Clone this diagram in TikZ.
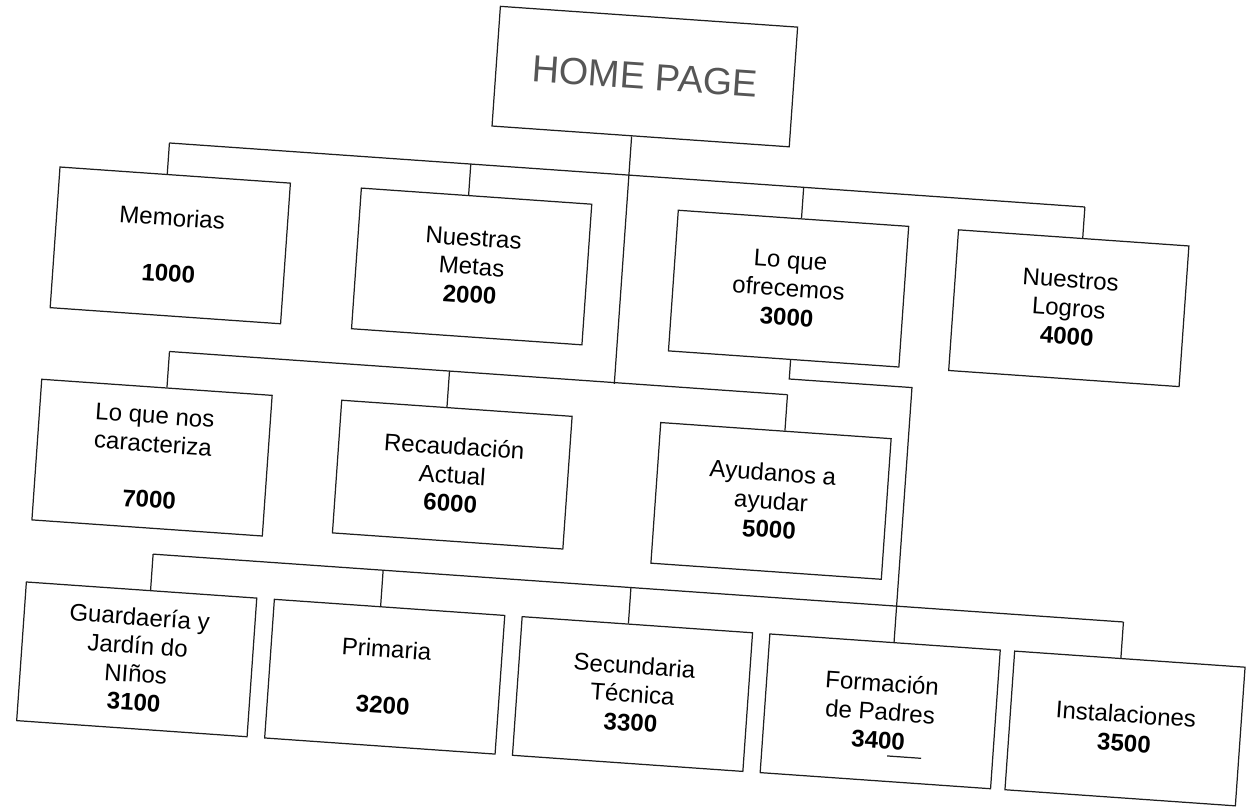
\documentclass[tikz,border=0pt]{standalone}
\usepackage{fontspec}
\setmainfont{Liberation Sans}
\usetikzlibrary{calc}
\definecolor{inkx}{HTML}{1E1E1E}
\tikzset{
  box/.style={draw=inkx,line width=0.7pt,align=center,minimum width=4.62cm,minimum height=2.82cm,inner sep=2pt,font=\fontsize{13.7}{16.2}\selectfont,transform shape},
  rowc/.style={box,minimum height=2.78cm},
  ln/.style={draw=inkx,line width=0.7pt}
}

\begin{document}
\begin{tikzpicture}[x=0.02cm,y=0.02cm]
\useasboundingbox (-625,-404) rectangle (625,403);
\begin{scope}[rotate=-4]
% top
\node[box,minimum width=5.96cm,minimum height=2.4cm,font=\fontsize{21.5}{24}\selectfont,text=inkx!75] (home) at (-3,327) {HOME PAGE};
% first row
\node[box] (mem) at (-464.6,125.5) {Memorias\\[0.55cm]\textbf{1000}};
\node[box] (met) at (-162.5,125.5) {Nuestras\\Metas\\\textbf{2000}};
\node[box] (ofr) at (155.2,125.5) {Lo que\\ofrecemos\\\textbf{3000}};
\node[box] (log) at (436.1,125.5) {Nuestros\\Logros\\\textbf{4000}};
% second row
\node[box] (car) at (-468,-87.5) {Lo que nos\\caracteriza\\[0.55cm]\textbf{7000}};
\node[box,minimum height=2.66cm] (rec) at (-167.3,-83.5) {Recaudación\\Actual\\\textbf{6000}};
\node[box] (ayu) at (152.5,-87.5) {Ayudanos a\\ayudar\\\textbf{5000}};
% third row
\node[rowc] (gua) at (-469.2,-289.8) {Guardaería y\\Jardín do\\NIños\\\textbf{3100}};
\node[rowc] (pri) at (-220.6,-289.8) {Primaria\\[0.55cm]\textbf{3200}};
\node[rowc] (sec) at (27.8,-289.8) {Secundaria\\Técnica\\\textbf{3300}};
\node[rowc] (fpa) at (276.1,-289.8) {Formación\\de Padres\\\textbf{3400}};
\node[rowc] (ins) at (521.5,-289.8) {Instalaciones\\\textbf{3500}};

% first level
\draw[ln] (mem.north) ++(-8,0) -- ++(0,31) coordinate (m1);
\draw[ln] (met.north) ++(-8,0) -- ++(0,31);
\draw[ln] (ofr.north) ++(8,0) -- ++(0,31);
\draw[ln] (log.north) ++(9,0) -- ++(0,31) coordinate (m4);
\draw[ln] (m1) -- (m4);
\draw[ln] (home.south) ++(-9,0) -- ++(0,-248) coordinate (h1);

% second level
\draw[ln] (car.north) ++(10,0) -- ++(0,36) coordinate (c1);
\draw[ln] (rec.north) ++(-10,0) -- ++(0,36);
\draw[ln] (ayu.north) ++(9,0) -- ++(0,36) coordinate (c3);
\draw[ln] (c1) -- (c3);

% 3000 down to its children
\draw[ln] (ofr.south) ++(7,0) -- ++(0,-19) -- ++(123,0) -- ($(fpa.north)+(9,0)$);
\draw[ln] (gua.north) ++(9,0) -- ++(0,36) coordinate (g1);
\draw[ln] (pri.north) ++(-9,0) -- ++(0,36);
\draw[ln] (sec.north) ++(-9,0) -- ++(0,36);
\draw[ln] (ins.north) ++(-9,0) -- ++(0,36) coordinate (g5);
\draw[ln] (g1) -- (g5);
\draw[ln] (fpa.center) ++(10,-44) -- ++(34,0);
\end{scope}
\end{tikzpicture}
\end{document}
